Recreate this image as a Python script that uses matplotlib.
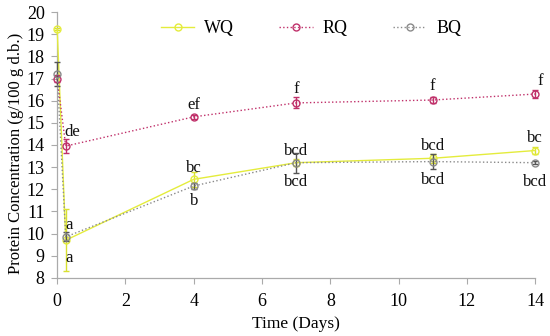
import numpy as np
import matplotlib.pyplot as plt
from matplotlib.lines import Line2D

plt.rcParams['font.family'] = ['Liberation Serif', 'DejaVu Serif']

# Data
days = [0, 0.25, 4, 7, 11, 14]
wq = [19.25, 9.7, 12.45, 13.2, 13.4, 13.75]
rq = [17.0, 13.95, 15.27, 15.9, 16.03, 16.3]
bq = [17.2, 9.85, 12.15, 13.2, 13.25, 13.2]
wq_err = [0.05, 1.4, 0.35, 0.15, 0.2, 0.15]
rq_err = [0.15, 0.3, 0.08, 0.25, 0.12, 0.2]
bq_err = [0.55, 0.2, 0.12, 0.45, 0.35, 0.08]

# significance letters: (x, y, text)
labels_above = [(0.45, 14.6, 'de'), (0.35, 10.4, 'a'), (4, 15.8, 'ef'), (4, 12.95, 'bc'),
                (7, 16.55, 'f'), (7, 13.75, 'bcd'), (11, 16.65, 'f'), (11, 13.95, 'bcd'),
                (14.15, 16.9, 'f'), (14, 14.3, 'bc')]
labels_below = [(0.35, 8.9, 'a'), (4, 11.45, 'b'), (7, 12.35, 'bcd'),
                (11, 12.4, 'bcd'), (14, 12.35, 'bcd')]

wq_color = '#e4ec3c'
rq_color = '#c0306a'
bq_color = '#8a8a8a'

fig = plt.figure(figsize=(5.5, 3.36), dpi=100)
ax = fig.add_axes([0.104, 0.173, 0.869, 0.791])

series = [(wq, wq_err, wq_color, '-', '#d8e030', 'WQ'),
          (rq, rq_err, rq_color, ':', rq_color, 'RQ'),
          (bq, bq_err, bq_color, ':', '#555555', 'BQ')]
handles = []
for i, (vals, err, col, ls, ecol, name) in enumerate(series):
    ax.errorbar(days, vals, yerr=err, color=col, lw=1.0, ls=ls, marker='o', ms=5,
                mfc='none', mew=1.0, capsize=2.5, elinewidth=1.0, ecolor=ecol,
                zorder=3 + i, clip_on=False)
    handles.append(Line2D([], [], color=col, lw=1.0, ls=ls, marker='o', ms=5,
                          mfc='none', mew=1.0, label=name))

for x, y, t in labels_above + labels_below:
    ax.text(x, y, t, ha='center', va='center', fontsize=12, color='#111111')

ax.set_xlim(0, 14)
ax.set_ylim(8, 20)
ax.set_xticks(np.arange(0, 15, 2))
ax.set_yticks(np.arange(8, 21, 1))
ax.set_xlabel('Time (Days)', fontsize=12.5, labelpad=4)
ax.set_ylabel('Protein Concentration (g/100 g d.b.)', fontsize=12)
ax.yaxis.set_label_coords(-0.07, 0.47)
ax.tick_params(labelsize=13, color='#aaaaaa', length=4, width=0.8)
ax.tick_params(axis='x', pad=7)
ax.tick_params(axis='y', pad=5)
for s in ['top', 'right']:
    ax.spines[s].set_visible(False)
for s in ['left', 'bottom']:
    ax.spines[s].set_color('#aaaaaa')
    ax.spines[s].set_linewidth(0.9)

ax.legend(handles=handles, loc='upper left', bbox_to_anchor=(0.183, 1.03), ncol=3,
          frameon=False, fontsize=13, handlelength=1.85, columnspacing=2.5,
          handletextpad=0.55)

fig.savefig('out.png', dpi=100)
